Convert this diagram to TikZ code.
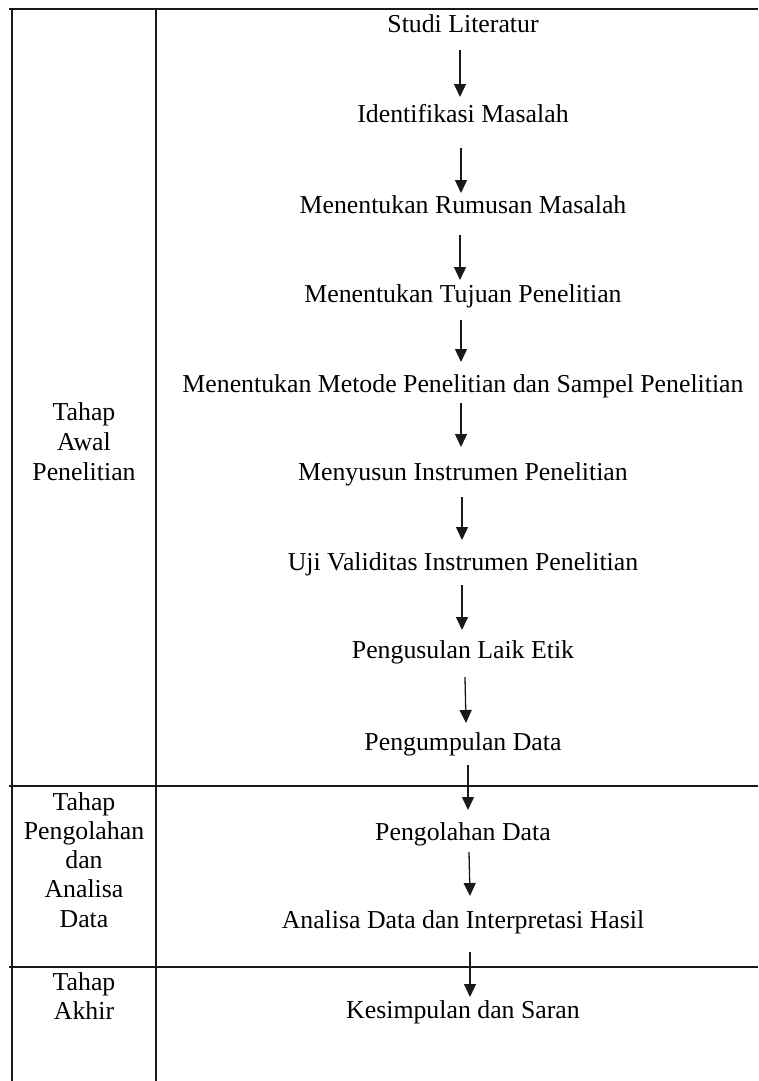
\documentclass[tikz,border=0pt]{standalone}
\usepackage{fontspec}
\setmainfont{Liberation Serif}
\usetikzlibrary{arrows.meta}
\begin{document}
\begin{tikzpicture}[x=1pt,y=-1pt,
  steptext/.style={anchor=base, inner sep=0pt, font=\fontsize{25.8}{30}\selectfont},
  phase/.style={anchor=base, inner sep=0pt, align=center},
  arr/.style={-{Triangle[length=13pt,width=12pt]}, line width=1.3pt, draw=black!90},
  rule/.style={line width=1.8pt, draw=black!90}]
\useasboundingbox (0,0) rectangle (758,1081);
% table rules
\draw[rule] (9,9) -- (758,9);
\draw[rule] (9,786) -- (758,786);
\draw[rule] (9,967) -- (758,967);
\draw[rule] (12,9) -- (12,1081);
\draw[rule] (156,9) -- (156,1081);
% phases (base anchor = baseline of last line)
\node[phase, font=\fontsize{25.8}{30}\selectfont] (p1) at (84,480) {Tahap\\Awal\\Penelitian};
\node[phase, font=\fontsize{25.8}{29.2}\selectfont] (p2) at (84,927) {Tahap\\Pengolahan\\dan\\Analisa\\Data};
\node[phase, font=\fontsize{25.8}{29}\selectfont] (p3) at (84,1019) {Tahap\\Akhir};
% steps
\node[steptext] (s1) at (463,33) {Studi Literatur};
\node[steptext] (s2) at (463,122) {Identifikasi Masalah};
\node[steptext] (s3) at (463,213) {Menentukan Rumusan Masalah};
\node[steptext] (s4) at (463,302) {Menentukan Tujuan Penelitian};
\node[steptext] (s5) at (463,392) {Menentukan Metode Penelitian dan Sampel Penelitian};
\node[steptext] (s6) at (463,480) {Menyusun Instrumen Penelitian};
\node[steptext] (s7) at (463,570) {Uji Validitas Instrumen Penelitian};
\node[steptext] (s8) at (463,658) {Pengusulan Laik Etik};
\node[steptext] (s9) at (463,750) {Pengumpulan Data};
\node[steptext] (s10) at (463,840) {Pengolahan Data};
\node[steptext] (s11) at (463,928) {Analisa Data dan Interpretasi Hasil};
\node[steptext] (s12) at (463,1018) {Kesimpulan dan Saran};
% arrows
\draw[arr] ([shift={(-3,17)}]s1.base) -- ([shift={(-3,-25)}]s2.base);
\draw[arr] ([shift={(-2,26)}]s2.base) -- ([shift={(-2,-20)}]s3.base);
\draw[arr] ([shift={(-3,22)}]s3.base) -- ([shift={(-3,-22)}]s4.base);
\draw[arr] ([shift={(-2,18)}]s4.base) -- ([shift={(-2,-30)}]s5.base);
\draw[arr] ([shift={(-2,11)}]s5.base) -- ([shift={(-2,-33)}]s6.base);
\draw[arr] ([shift={(-1,17)}]s6.base) -- ([shift={(-1,-30)}]s7.base);
\draw[arr] ([shift={(-1,15)}]s7.base) -- ([shift={(-1,-28)}]s8.base);
\draw[arr] ([shift={(2,19)}]s8.base) -- ([shift={(3,-27)}]s9.base);
\draw[arr] ([shift={(5,15)}]s9.base) -- ([shift={(5,-30)}]s10.base);
\draw[arr] ([shift={(6,12)}]s10.base) -- ([shift={(7,-32)}]s11.base);
\draw[arr] ([shift={(7,24)}]s11.base) -- ([shift={(7,-21)}]s12.base);
\end{tikzpicture}
\end{document}
